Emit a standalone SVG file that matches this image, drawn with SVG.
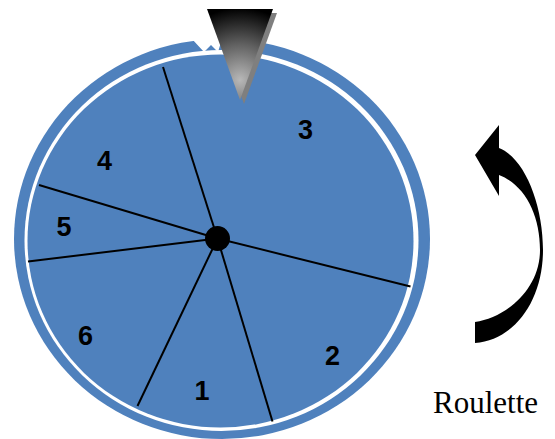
<svg xmlns="http://www.w3.org/2000/svg" width="555" height="439" viewBox="0 0 555 439">
  <defs>
    <radialGradient id="cone" gradientUnits="userSpaceOnUse" cx="240" cy="78" r="70" fx="240" fy="80">
      <stop offset="0" stop-color="#b8b8b8"/>
      <stop offset="0.5" stop-color="#606060"/>
      <stop offset="1" stop-color="#000000"/>
    </radialGradient>
  </defs>
  <style>
    .blue { fill: #4F81BD; }
    .spoke { stroke: #000; stroke-width: 2; fill: none; }
    .num { font-family: "Liberation Sans", Arial, sans-serif; font-weight: bold; font-size: 27px; fill: #000; text-anchor: middle; }
    .cap { font-family: "Liberation Serif", "Times New Roman", serif; font-size: 31px; fill: #000; }
  </style>
  <rect width="555" height="439" fill="#ffffff"/>
  <g id="wheel">
    <ellipse class="blue" cx="222" cy="239" rx="208" ry="200"/>
    <ellipse cx="221.5" cy="240.5" rx="197" ry="190.5" fill="#ffffff"/>
    <ellipse class="blue" cx="220.5" cy="241" rx="193" ry="186.5"/>
    <polygon points="192,39 222,39 218,52 211,45 204,52" fill="#ffffff"/>
  </g>
  <g id="connectors">
    <line class="spoke" x1="217.5" y1="238.5" x2="163" y2="67"/>
    <line class="spoke" x1="217.5" y1="238.5" x2="39" y2="185"/>
    <line class="spoke" x1="217.5" y1="238.5" x2="28" y2="261.5"/>
    <line class="spoke" x1="217.5" y1="238.5" x2="410.5" y2="286.5"/>
    <line class="spoke" x1="217.5" y1="238.5" x2="137.5" y2="406"/>
    <line class="spoke" x1="217.5" y1="238.5" x2="272.5" y2="421.5"/>
  </g>
  <g id="hub">
    <circle cx="217.5" cy="238.5" r="12.5" fill="#000"/>
  </g>
  <g id="labels">
    <text class="num" x="305.5" y="139">3</text>
    <text class="num" x="104.5" y="170">4</text>
    <text class="num" x="64" y="236">5</text>
    <text class="num" x="85.5" y="345">6</text>
    <text class="num" x="202" y="400">1</text>
    <text class="num" x="332.5" y="365">2</text>
  </g>
  <g id="pointer">
    <polygon points="211,13 277,13 244,104" fill="#7f7f7f"/>
    <polygon points="207,9 273,9 240,100" fill="url(#cone)"/>
  </g>
  <g id="arrow">
    <path d="M475,155 L499,125 L499,148 C525,158 543,205 543,250 C543,300 515,340 475,343 L475,322 C505,318 540,290 540,250 C540,215 525,185 499,175 L499,196 Z" fill="#000"/>
  </g>
  <g id="caption">
    <text class="cap" x="433" y="413">Roulette</text>
  </g>
</svg>
